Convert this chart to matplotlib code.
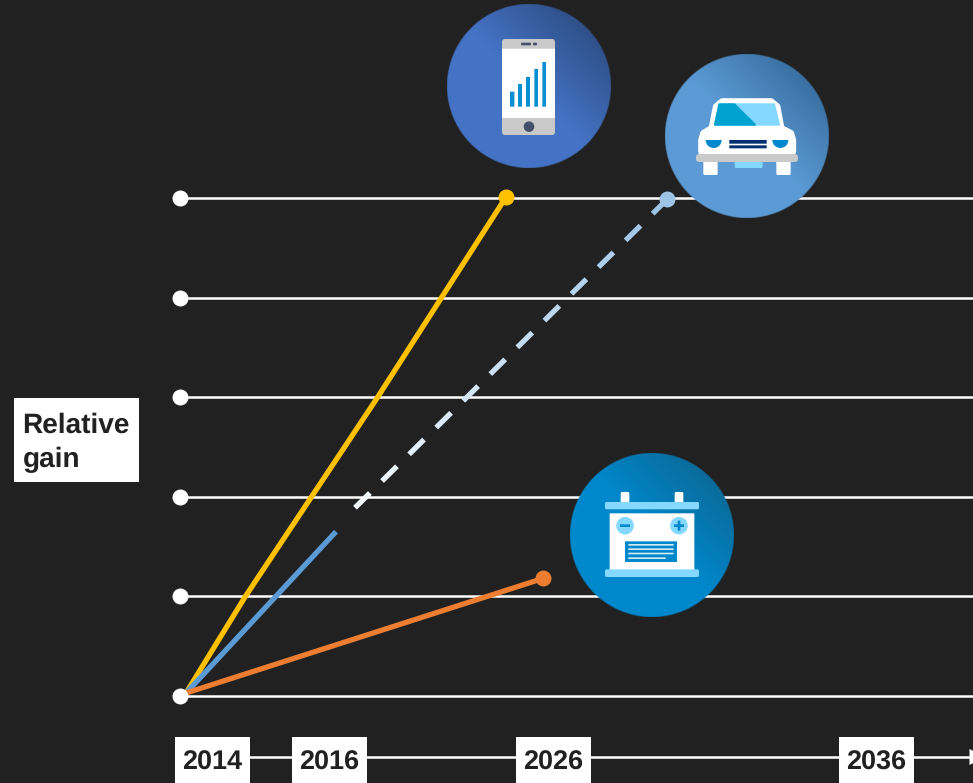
"""Relative gain chart: phone, car and battery trends over time"""
import numpy as np
import matplotlib
matplotlib.use('Agg')
import matplotlib.pyplot as plt
from matplotlib.colors import LinearSegmentedColormap
from matplotlib.patches import Circle, FancyBboxPatch, Polygon, Rectangle, Wedge

plt.rcParams['font.family'] = ['Liberation Sans', 'DejaVu Sans']
plt.rcParams['text.hinting'] = 'no_hinting'
plt.rcParams['text.hinting_factor'] = 1

BG = '#212121'
TEXT = '#212121'

# ---- data ----
gain_levels = [0, 1, 2, 3, 4, 5]
# x is the horizontal position along the (non linear) time axis
years = ['2014', '2016', '2026', '2036']
year_x = [212.5, 329.5, 553.5, 876.5]

phone_x, phone_y = [186, 245, 377, 506], [0.03, 0.994, 2.99, 5.01]
battery_x, battery_y = [186, 543], [0.03, 1.18]
car_solid_x, car_solid_y = [186, 336], [0.03, 1.65]
car_dash_x, car_dash_y = [355, 667], [1.89, 4.985]

# ---- axes ----
fig = plt.figure(figsize=(9.73, 7.83), dpi=100, facecolor=BG)
ax = fig.add_axes([0, 0, 1, 1])
ax.set_xlim(0, 973)
# gain 0 sits at pixel 696, one gain step is 99.6 px
ax.set_ylim((696 - 783) / 99.6, 696 / 99.6)
ax.axis('off')

px = fig.add_axes([0, 0, 1, 1], facecolor='none')  # overlay in pixel coords, for the icons
px.set_xlim(0, 973)
px.set_ylim(783, 0)
px.axis('off')

# ---- grid and series ----
for g in gain_levels:
    ax.plot([180, 973], [g, g], color='white', lw=1.8, zorder=1, solid_capstyle='butt')
ax.plot([180] * len(gain_levels), gain_levels, 'o', color='white', ms=11.5, mew=0, zorder=4)

ax.plot(phone_x, phone_y, color='#FFC000', lw=3.8, zorder=3, solid_capstyle='round')
ax.plot(car_solid_x, car_solid_y, color='#5B9BD5', lw=3.8, zorder=3, solid_capstyle='butt')
ax.plot(battery_x, battery_y, color='#ED7D31', lw=3.8, zorder=3, solid_capstyle='round')

# the dashed part fades from near white to light blue, so one plot call per dash
dash_cmap = LinearSegmentedColormap.from_list('dash', ['#F4F9FD', '#9DC3E6'])
n_dash = 12
period = 1 / (n_dash - 0.47)
for i in range(n_dash):
    t0, t1 = i * period, i * period + 0.55 * period
    ax.plot(np.interp([t0, t1], [0, 1], car_dash_x), np.interp([t0, t1], [0, 1], car_dash_y),
            color=dash_cmap(i / (n_dash - 1)), lw=3.8, zorder=3, solid_capstyle='butt')

ax.plot(phone_x[-1], phone_y[-1], 'o', color='#FFC000', ms=11.5, mew=0, zorder=5)
ax.plot(car_dash_x[-1], car_dash_y[-1], 'o', color='#9DC3E6', ms=11.5, mew=0, zorder=5)
ax.plot(battery_x[-1], battery_y[-1], 'o', color='#ED7D31', ms=11.5, mew=0, zorder=5)

# ---- time axis ----
px.plot([212, 970], [757, 757], color='white', lw=1.8, solid_capstyle='butt', zorder=2)
px.add_patch(Polygon([(969.5, 749), (969.5, 765), (985, 757)], fc='white', ec='none', zorder=2))
for label, x in zip(years, year_x):
    px.add_patch(Rectangle((x - 37.5, 737), 75, 46, fc='white', ec='none', zorder=6))
    px.text(x, 770, label, fontsize=19.7, fontweight='bold', color=TEXT,
            ha='center', va='baseline', zorder=7)

# ---- y label ----
px.add_patch(Rectangle((14, 398), 125, 84, fc='white', ec='none', zorder=6))
px.text(22.5, 433, 'Relative', fontsize=20.2, fontweight='bold', color=TEXT, va='baseline', zorder=7)
px.text(22.5, 467, 'gain', fontsize=20.2, fontweight='bold', color=TEXT, va='baseline', zorder=7)


# ---- icons ----
def disc(cx, cy, c0, c1, r=82):
    # gradient disc as rgba image, alpha edge keeps the rim smooth
    n = 4 * r
    t = (np.arange(n) + 0.5) / n
    xx, yy = np.meshgrid(t, t)
    cmap = LinearSegmentedColormap.from_list('d', [c0, c0, c1])
    rgba = cmap(xx * 0.5 + (1 - yy) * 0.5)  # light at lower left, dark at upper right
    dist = np.hypot(xx - 0.5, yy - 0.5) * 2 * r
    rgba[..., 3] = np.clip(r - dist + 0.5, 0, 1)
    px.imshow(rgba, origin='upper', extent=(cx - r, cx + r, cy + r, cy - r), zorder=8, aspect='auto')
    px.set_xlim(0, 973)
    px.set_ylim(783, 0)


def box(ox, oy, x0, y0, x1, y1, color, z=9, r=0):
    # coords are in 3x zoom units relative to the origin (ox, oy)
    x, y, w, h = ox + x0 / 3, oy + y0 / 3, (x1 - x0) / 3, (y1 - y0) / 3
    if r:
        px.add_patch(FancyBboxPatch((x + r, y + r), w - 2 * r, h - 2 * r, mutation_aspect=1,
                                    boxstyle=f'round,pad={r},rounding_size={r}',
                                    fc=color, ec='none', zorder=z, snap=False))
    else:
        px.add_patch(Rectangle((x, y), w, h, fc=color, ec='none', zorder=z, snap=False))


def poly(ox, oy, pts, color, z=9, lw=0):
    # lw > 0 rounds the corners through a round-joined edge
    px.add_patch(Polygon([(ox + a / 3, oy + b / 3) for a, b in pts], fc=color,
                         ec=color if lw else 'none', lw=lw, joinstyle='round', zorder=z))


# phone
disc(528.5, 86.5, '#4472C4', '#27426F')
box(440, 0, 186, 117, 345, 405, '#C9C9C9', r=3)
box(440, 0, 186, 146, 345, 354, 'white', z=10)
for x0, x1, top in [(210, 223, 275), (234, 246, 252), (258, 270, 231), (283, 294, 207), (307, 318, 186)]:
    box(440, 0, x0, top, x1, 320, '#0A8FD0', z=11)
box(440, 0, 243, 128, 273, 136, '#44506B', z=11, r=1)
box(440, 0, 279, 128, 291, 136, '#44506B', z=11, r=1)
px.add_patch(Circle((440 + 267 / 3, 380 / 3), 5.3, fc='#44506B', ec='none', zorder=11))

# car
disc(747, 136, '#5B9BD5', '#2D5F8F')
o = (440, 0)
poly(*o, [(847, 305), (993, 305), (1011, 320), (1023, 385), (1052, 400), (1058, 420), (1058, 455),
          (785, 455), (785, 420), (791, 400), (816, 385), (829, 320)], 'white', lw=5)
poly(*o, [(838, 313), (1002, 313), (1017, 374), (825, 374)], '#85D8FF', z=10, lw=1.5)
poly(*o, [(838, 313), (883, 313), (945, 374), (825, 374)], '#00A3CF', z=11, lw=1.5)
px.add_patch(Wedge((440 + 821 / 3, 420 / 3), 8, 0, 180, fc='#0088CC', ec='none', zorder=10))
px.add_patch(Wedge((440 + 1021 / 3, 420 / 3), 8, 0, 180, fc='#0088CC', ec='none', zorder=10))
box(*o, 868, 420, 980, 431, '#003070', z=10)
box(*o, 868, 436, 980, 445, '#003070', z=10)
box(*o, 790, 480, 833, 525, 'white', r=1.5)
box(*o, 1009, 480, 1052, 525, 'white', r=1.5)
box(*o, 884, 480, 968, 504, '#85D8FF', r=1.5)
box(*o, 768, 462, 1074, 486, '#C9C9C9', z=10, r=3)

# battery
disc(652, 535, '#0088CC', '#0E5F86')
o = (560, 445)
box(*o, 182, 141, 208, 175, 'white', r=1.5)
box(*o, 344, 141, 370, 175, 'white', r=1.5)
box(*o, 135, 171, 417, 193, '#85D8FF', z=10, r=1.5)
box(*o, 149, 205, 403, 375, 'white')
box(*o, 135, 373, 417, 396, '#85D8FF', z=10, r=1.5)
for cx in (195, 357):
    px.add_patch(Circle((560 + cx / 3, 445 + 242 / 3), 8.8, fc='#85D8FF', ec='none', zorder=10))
    box(*o, cx - 15, 238, cx + 15, 246, '#0088CC', z=11)
box(*o, 353, 227, 361, 257, '#0088CC', z=11)
box(*o, 195, 289, 351, 351, '#0088CC', z=10)
for y0, x1 in [(297, 341), (310, 341), (323, 341), (337, 317)]:
    box(*o, 205, y0, x1, y0 + 5, '#D5EAF5', z=11)

fig.savefig('out.png', dpi=100, facecolor=BG)
